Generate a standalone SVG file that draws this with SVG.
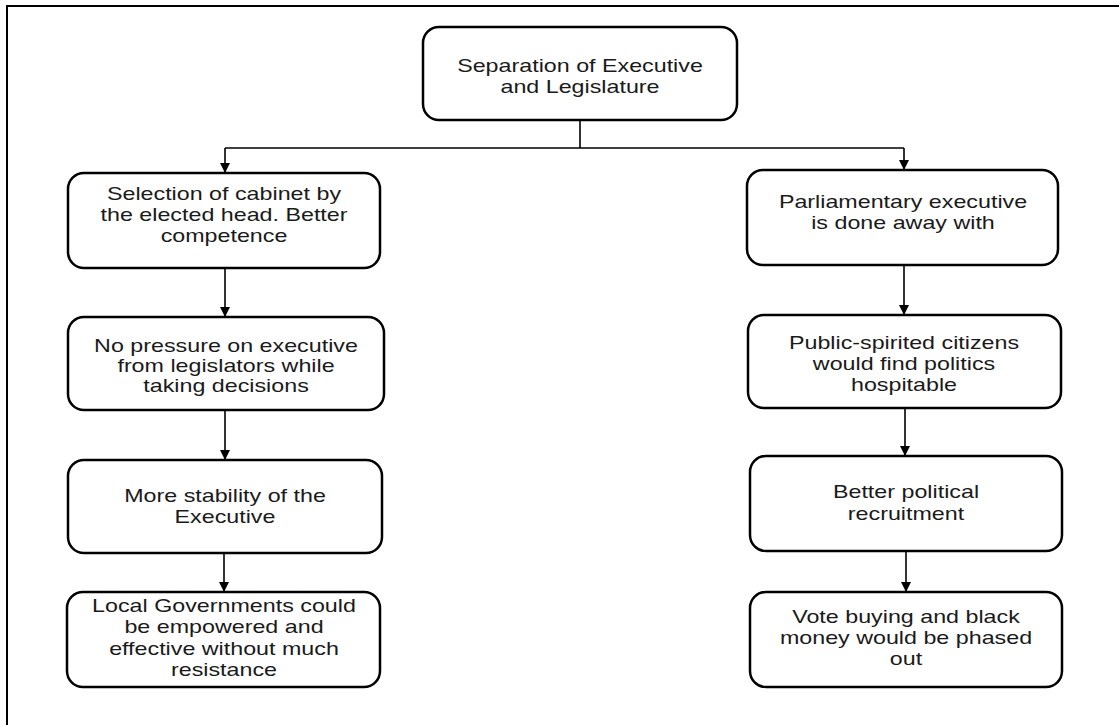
<svg xmlns="http://www.w3.org/2000/svg" width="1119" height="725" viewBox="0 0 1119 725">
<style>
.box{fill:#fff;stroke:#000;stroke-width:2.5}
.lbl{font-family:"Liberation Sans",Arial,sans-serif;font-size:17.5px;fill:#1a1a1a;text-anchor:middle}
.ln{fill:none;stroke:#000;stroke-width:1.6}
</style>
<defs>
<marker id="ah" viewBox="0 0 10 10" refX="9" refY="5" markerWidth="10" markerHeight="10" markerUnits="userSpaceOnUse" orient="auto">
<path d="M0,0 L10,5 L0,10 Z" fill="#000"/>
</marker>
</defs>
<rect width="1119" height="725" fill="#fff"/>
<path d="M7,725 V6 H1119" fill="none" stroke="#000" stroke-width="2"/>
<g id="connectors">
<path class="ln" d="M580,120 V148"/>
<path class="ln" d="M225,148 H904"/>
<path class="ln" d="M225,148 V172" marker-end="url(#ah)"/>
<path class="ln" d="M904,148 V169" marker-end="url(#ah)"/>
<path class="ln" d="M225,268 V316" marker-end="url(#ah)"/>
<path class="ln" d="M225,410 V459" marker-end="url(#ah)"/>
<path class="ln" d="M224,553 V591" marker-end="url(#ah)"/>
<path class="ln" d="M904,265 V314" marker-end="url(#ah)"/>
<path class="ln" d="M905,408 V455" marker-end="url(#ah)"/>
<path class="ln" d="M906,551 V591" marker-end="url(#ah)"/>
</g>
<g id="root">
<rect class="box" x="423" y="27" width="314" height="93" rx="16"/>
<text class="lbl" transform="translate(580 0) scale(1.33 1)"><tspan x="0" y="72">Separation of Executive</tspan><tspan x="0" y="93">and Legislature</tspan></text>
</g>
<g id="l1">
<rect class="box" x="68" y="173" width="312" height="95" rx="16"/>
<text class="lbl" transform="translate(224 0) scale(1.33 1)"><tspan x="0" y="200">Selection of cabinet by</tspan><tspan x="0" y="221">the elected head. Better</tspan><tspan x="0" y="242">competence</tspan></text>
</g>
<g id="l2">
<rect class="box" x="68" y="317" width="316" height="93" rx="16"/>
<text class="lbl" transform="translate(226 0) scale(1.33 1)"><tspan x="0" y="352">No pressure on executive</tspan><tspan x="0" y="372">from legislators while</tspan><tspan x="0" y="392">taking decisions</tspan></text>
</g>
<g id="l3">
<rect class="box" x="68" y="460" width="314" height="93" rx="16"/>
<text class="lbl" transform="translate(225 0) scale(1.33 1)"><tspan x="0" y="502">More stability of the</tspan><tspan x="0" y="523">Executive</tspan></text>
</g>
<g id="l4">
<rect class="box" x="67" y="592" width="313" height="95" rx="16"/>
<text class="lbl" transform="translate(224 0) scale(1.33 1)"><tspan x="0" y="612">Local Governments could</tspan><tspan x="0" y="633">be empowered and</tspan><tspan x="0" y="655">effective without much</tspan><tspan x="0" y="676">resistance</tspan></text>
</g>
<g id="r1">
<rect class="box" x="747" y="170" width="311" height="95" rx="16"/>
<text class="lbl" transform="translate(903 0) scale(1.33 1)"><tspan x="0" y="208">Parliamentary executive</tspan><tspan x="0" y="229">is done away with</tspan></text>
</g>
<g id="r2">
<rect class="box" x="748" y="315" width="313" height="93" rx="16"/>
<text class="lbl" transform="translate(904 0) scale(1.33 1)"><tspan x="0" y="349">Public-spirited citizens</tspan><tspan x="0" y="370">would find politics</tspan><tspan x="0" y="391">hospitable</tspan></text>
</g>
<g id="r3">
<rect class="box" x="750" y="456" width="312" height="95" rx="16"/>
<text class="lbl" transform="translate(906 0) scale(1.33 1)"><tspan x="0" y="498">Better political</tspan><tspan x="0" y="520">recruitment</tspan></text>
</g>
<g id="r4">
<rect class="box" x="750" y="592" width="312" height="95" rx="16"/>
<text class="lbl" transform="translate(906 0) scale(1.33 1)"><tspan x="0" y="623">Vote buying and black</tspan><tspan x="0" y="644">money would be phased</tspan><tspan x="0" y="665">out</tspan></text>
</g>
</svg>
